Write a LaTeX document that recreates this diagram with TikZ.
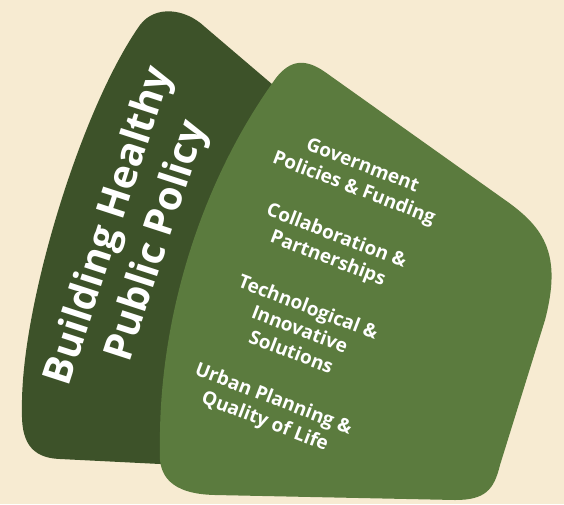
\documentclass[tikz,border=0pt]{standalone}
\usepackage{fontspec}
\setmainfont{Open Sans}
\definecolor{bgbeige}{HTML}{F7EBD2}
\definecolor{darkgreen}{HTML}{3D5229}
\definecolor{lightgreen}{HTML}{5B7B3E}
\tikzset{
  titletext/.style={font=\bfseries\fontsize{40}{50}\selectfont, text=white, align=center, inner sep=0pt},
  itemtext/.style={font=\bfseries\fontsize{19}{24}\selectfont, text=white, align=center, inner sep=0pt, rotate=-21}
}
\begin{document}
\begin{tikzpicture}[x=1pt,y=-1pt]
\useasboundingbox (0,0) rectangle (564,504);
\fill[bgbeige] (0,0) rectangle (564,504);
% dark back panel
\fill[darkgreen] (200,466) -- (60,459) .. controls (30,458) and (21,440) .. (22,410)
  .. controls (20,310) and (80,110) .. (140,25)
  .. controls (155,5) and (185,8) .. (205,27) -- (300,108) -- cycle;
% light front panel
\fill[lightgreen] (160,450) .. controls (158,330) and (195,190) .. (276,78)
  .. controls (290,60) and (305,58) .. (325,72) -- (505,200)
  .. controls (545,228) and (562,255) .. (545,320) -- (500,465)
  .. controls (494,490) and (485,500) .. (455,500) -- (215,495)
  .. controls (170,494) and (158,475) .. (160,450) -- cycle;
\node[titletext, rotate=72] (title) at (134,234) {Building Healthy\\Public Policy};
\node[itemtext] (i1) at (358,178) {Government\\Policies \& Funding};
\node[itemtext] (i2) at (332,248) {Collaboration \&\\Partnerships};
\node[itemtext] (i3) at (300,329) {Technological \&\\Innovative\\Solutions};
\node[itemtext] (i4) at (269,411) {Urban Planning \&\\Quality of Life};
\end{tikzpicture}
\end{document}
